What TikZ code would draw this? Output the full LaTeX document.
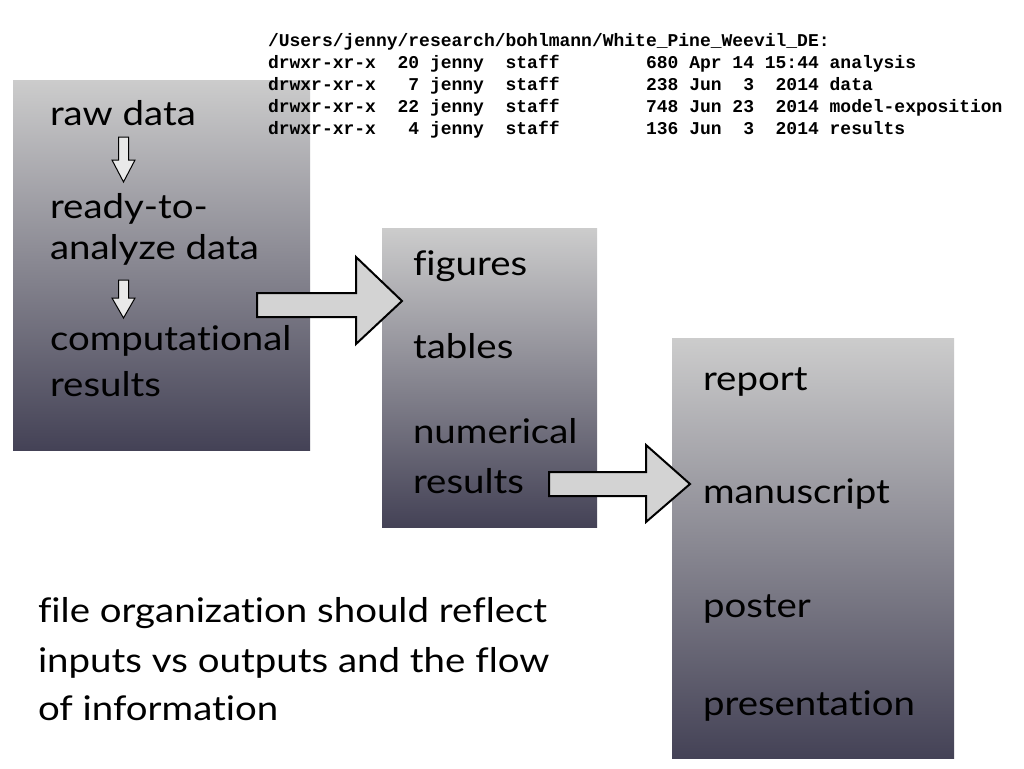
\documentclass[tikz,border=0pt]{standalone}
\usepackage{fontspec}
\setmainfont{Lato}[Ligatures=NoCommon, FakeStretch=1.13]
\setmonofont{Liberation Mono}
\definecolor{boxtop}{RGB}{204,204,204}
\definecolor{boxbottom}{RGB}{68,66,86}
\definecolor{arrowgray}{RGB}{211,211,211}
\begin{document}
\begin{tikzpicture}[
    x = 1pt,
    y = -1pt,
    folder/.style = {top color=boxtop, bottom color=boxbottom, draw=none},
    item/.style = {anchor=base west, inner sep=0pt, outer sep=0pt,
              font=\fontsize{34}{40}\selectfont},
    lsline/.style = {anchor=base west, inner sep=0pt, outer sep=0pt,
              font=\fontsize{18}{22}\ttfamily\bfseries},
    bigarrow/.style = {draw=black, line width=2pt, fill=arrowgray, line join=miter},
    smallarrow/.style = {draw=black, line width=1pt, fill=arrowgray!50},
    ]

\useasboundingbox[fill=white] (0,0) rectangle (1024,768);

% the three folders
\shade[folder] (13,80) rectangle (310,450);
\shade[folder] (382,228) rectangle (597,527);
\shade[folder] (672,338) rectangle (954,758);

% directory listing
\node[lsline] (path) at (268,46) {/Users/jenny/research/bohlmann/White\_Pine\_Weevil\_DE:};
\node[lsline] (ls_1) at (268,68) {drwxr-xr-x~~20 jenny~~staff~~~~~~~~680 Apr 14 15:44 analysis};
\node[lsline] (ls_2) at (268,90) {drwxr-xr-x~~~7 jenny~~staff~~~~~~~~238 Jun~~3~~2014 data};
\node[lsline] (ls_3) at (268,112) {drwxr-xr-x~~22 jenny~~staff~~~~~~~~748 Jun 23~~2014 model-exposition};
\node[lsline] (ls_4) at (268,134) {drwxr-xr-x~~~4 jenny~~staff~~~~~~~~136 Jun~~3~~2014 results};

% inputs
\node[item] (raw) at (50,125) {raw data};
\node[item] (ready) at (50,218) {ready-to-};
\node[item] (analyze) at (50,259) {analyze data};
\node[item] (comp) at (50,350) {computational};
\node[item] (comp_res) at (50,396) {results};

\foreach \ytop/\ybase/\ytip in {137/160/182, 280/298/318}
    \draw[smallarrow] (118.5,\ytop) -- (128.5,\ytop) -- (128.5,\ybase) -- (135,\ybase)
        -- (123.5,\ytip) -- (112,\ybase) -- (118.5,\ybase) -- cycle;

% outputs
\node[item] (figures) at (413,275) {figures};
\node[item] (tables) at (413,358) {tables};
\node[item] (numerical) at (413,443) {numerical};
\node[item] (num_res) at (413,493) {results};

% products
\node[item] (report) at (703,390) {report};
\node[item] (manuscript) at (703,503) {manuscript};
\node[item] (poster) at (703,617) {poster};
\node[item] (presentation) at (703,715) {presentation};

% flow
\draw[bigarrow] (257,293) -- (356,293) -- (356,257) -- (402,301) -- (356,344)
    -- (356,317) -- (257,317) -- cycle;
\draw[bigarrow] (549,472) -- (646,472) -- (646,445) -- (690,484) -- (646,522)
    -- (646,496) -- (549,496) -- cycle;

\node[item] (note_1) at (38,622) {file organization should reflect};
\node[item] (note_2) at (38,672) {inputs vs outputs and the flow};
\node[item] (note_3) at (38,720) {of information};

\end{tikzpicture}
\end{document}
